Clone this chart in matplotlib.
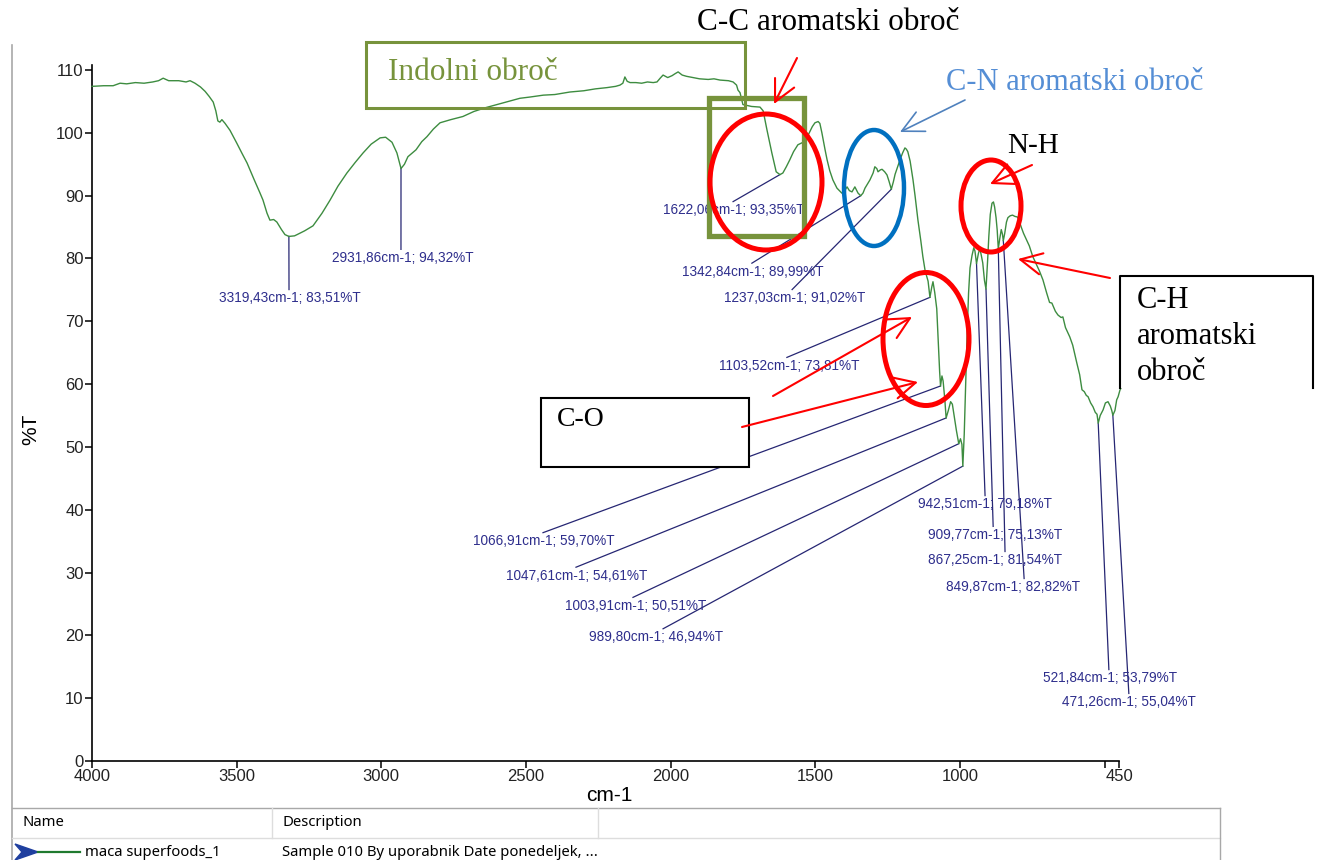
import matplotlib
matplotlib.use("Agg")
import matplotlib.pyplot as plt
from matplotlib.patches import Rectangle, Ellipse, Polygon

# spectrum: wavenumber (cm-1) and %T
wn = [4000, 3960, 3927, 3903, 3880, 3850, 3820, 3790, 3770, 3754, 3735, 3700, 3675, 3661,
      3644, 3625, 3609, 3595, 3581, 3572, 3565, 3558, 3551, 3540, 3523, 3500, 3480, 3464,
      3440, 3420, 3409, 3395, 3385, 3372, 3361, 3345, 3333, 3319.43, 3300, 3291, 3265, 3236,
      3205, 3177, 3150, 3119, 3090, 3063, 3035, 3004, 2985, 2963, 2946, 2931.86, 2920, 2908,
      2880, 2860, 2842, 2820, 2797, 2760, 2718, 2680, 2640, 2600, 2560, 2521, 2486, 2440,
      2400, 2348, 2300, 2260, 2220, 2190, 2175, 2165, 2158, 2150, 2140, 2120, 2100, 2080,
      2060, 2047, 2036, 2026, 2010, 1995, 1985, 1974, 1960, 1945, 1922, 1900, 1870, 1850,
      1829, 1800, 1784, 1772, 1767, 1760, 1750, 1720, 1691, 1680, 1667, 1650, 1635, 1622.06,
      1612, 1600, 1588, 1575, 1560, 1542, 1525, 1510, 1501, 1490, 1484, 1477, 1466, 1459,
      1450, 1439, 1425, 1408, 1398, 1390, 1382, 1373, 1363, 1352, 1342.84, 1335, 1328, 1320,
      1311, 1300, 1294, 1287, 1283, 1275, 1269, 1260, 1252, 1245, 1237.03, 1230, 1224, 1218,
      1207, 1198, 1190, 1185, 1180, 1172, 1162, 1155, 1145, 1135, 1128, 1120, 1110, 1103.52,
      1097, 1093, 1087, 1080, 1075, 1070, 1066.91, 1062, 1058, 1052, 1047.61, 1040, 1032,
      1026, 1020, 1012, 1003.91, 998, 993, 989.80, 985, 980, 975, 970, 965, 958, 952, 948,
      942.51, 936, 931, 926, 921, 915, 909.77, 904, 900, 895, 889, 884, 880, 875, 871, 867.25,
      862, 857, 853, 849.87, 845, 839, 834, 826, 818, 810, 801, 795, 788, 780, 770, 760, 748,
      735, 725, 713, 700, 690, 682, 670, 661, 650, 644, 635, 620, 610, 596, 586, 578, 570,
      563, 557, 548, 540, 532, 526, 521.84, 515, 505, 497, 488, 480, 475, 471.26, 464, 458,
      453, 447, 443]
tr = [107.4, 107.5, 107.5, 107.9, 107.8, 108.0, 107.9, 108.1, 108.3, 108.7, 108.3, 108.3, 108.1, 108.3,
      107.9, 107.3, 106.6, 105.8, 104.9, 103.5, 101.9, 101.7, 102.1, 101.5, 100.4, 98.4, 96.6, 95.2,
      92.6, 90.5, 89.3, 87.2, 86.1, 86.2, 85.8, 84.6, 83.8, 83.51, 83.6, 83.8, 84.4, 85.2,
      87.2, 89.3, 91.5, 93.6, 95.3, 96.8, 98.2, 99.2, 99.3, 98.5, 96.8, 94.32, 95.0, 96.2,
      97.3, 98.6, 99.4, 100.6, 101.6, 102.1, 102.6, 103.4, 104.0, 104.5, 105.0, 105.5, 105.7, 106.0,
      106.1, 106.5, 106.7, 107.0, 107.2, 107.4, 107.6, 107.9, 108.9, 108.2, 108.0, 108.0, 107.9, 108.1,
      108.0, 108.1, 108.7, 109.2, 108.8, 109.1, 109.4, 109.7, 109.2, 109.0, 108.8, 108.6, 108.5, 108.6,
      108.4, 108.3, 108.1, 107.6, 106.8, 106.4, 104.5, 104.2, 104.1, 103.5, 100.5, 96.8, 93.8, 93.35,
      93.6, 94.6, 95.7, 97.0, 98.1, 98.5, 99.6, 101.0, 101.6, 101.8, 101.5, 100.0, 97.3, 95.7,
      94.0, 92.5, 91.2, 90.4, 90.8, 91.4, 90.8, 90.6, 91.4, 90.4, 89.99, 90.4, 91.2, 91.8,
      92.5, 93.6, 94.6, 94.3, 93.8, 94.1, 94.2, 93.8, 93.3, 92.3, 91.02, 92.2, 93.4, 94.2,
      95.7, 96.8, 97.6, 97.4, 97.0, 95.5, 92.5, 90.0, 86.1, 82.8, 80.3, 78.0, 76.4, 73.81,
      75.5, 76.3, 74.6, 72.0, 67.0, 62.0, 59.70, 61.3, 60.5, 57.5, 54.61, 55.8, 57.2,
      56.8, 55.0, 52.6, 50.51, 51.3, 50.4, 46.94, 52.0, 60.0, 68.0, 74.5, 78.5, 80.5, 81.7, 81.2,
      79.18, 80.8, 81.6, 80.5, 79.3, 76.5, 75.13, 79.8, 83.5, 87.0, 88.8, 89.0, 88.2, 86.5, 84.5, 81.54,
      83.2, 84.6, 83.9, 82.82, 84.0, 85.8, 86.5, 86.8, 86.9, 86.7, 86.6, 86.0, 85.0, 84.0, 83.0, 82.0, 80.3,
      79.0, 78.0, 76.6, 74.5, 73.0, 72.9, 71.6, 71.0, 70.6, 70.7, 69.0, 67.5, 66.2, 63.4, 61.5, 59.1, 58.8,
      58.2, 58.0, 57.0, 56.4, 55.5, 55.2, 53.79, 55.0, 55.9, 57.0, 57.2, 56.5, 55.8, 55.04, 55.8, 57.5,
      58.0, 59.0, 59.4]

# picked peaks
peak_wn = [3319.43, 2931.86, 1622.06, 1342.84, 1237.03, 1103.52, 1066.91, 1047.61,
           1003.91, 989.80, 942.51, 909.77, 867.25, 849.87, 521.84, 471.26]
peak_t = [83.51, 94.32, 93.35, 89.99, 91.02, 73.81, 59.70, 54.61,
          50.51, 46.94, 79.18, 75.13, 81.54, 82.82, 53.79, 55.04]
# where the peak labels sit (text centre) and where their leader lines end
lab_wn = [3317, 2927, 1780, 1715, 1570, 1591, 2438, 2323, 2120, 2050, 913, 878, 878, 816, 481, 416]
lab_t = [73.7, 80.1, 87.7, 77.9, 73.7, 62.9, 35.0, 29.5, 24.7, 19.7, 40.9, 36.0, 32.0, 27.7, 13.2, 9.4]
end_wn = [3319, 2932, 1784, 1719, 1580, 1598, 2441, 2327, 2130, 2026, 913, 885, 844, 778, 485, 416]

xticks = [4000, 3500, 3000, 2500, 2000, 1500, 1000, 500, 450]
xticklabels = ["4000", "3500", "3000", "2500", "2000", "1500", "1000", "", "450"]
yticks = [0, 10, 20, 30, 40, 50, 60, 70, 80, 90, 100, 110]

SANS = "Liberation Sans"
SERIF = "Liberation Serif"
UI = "Noto Sans"
W, H = 1317, 860

fig = plt.figure(figsize=(W / 100, H / 100), dpi=100)
ax = fig.add_axes([92 / W, 99 / H, 1027 / W, 696 / H])
ax.plot(wn, tr, color="#3d8c40", lw=1.0, clip_on=False, zorder=3)
ax.set_xlim(4000, 450)
ax.set_ylim(0, 110.8)
ax.spines["top"].set_visible(False)
ax.spines["right"].set_visible(False)
for s in ("left", "bottom"):
  ax.spines[s].set_linewidth(1.2)
ax.set_xticks(xticks)
ax.set_xticklabels(xticklabels)
ax.set_yticks(yticks)
ax.tick_params(direction="out", length=5, width=1.1, labelsize=12, pad=1)
for lbl in ax.get_xticklabels() + ax.get_yticklabels():
  lbl.set_fontfamily(SANS)
  lbl.set_color("#222222")
ax.set_xlabel("cm-1", fontsize=15, family=SANS)
ax.set_ylabel("%T", fontsize=15, family=SANS)
ax.xaxis.set_label_coords(0.504, -0.036)
ax.yaxis.set_label_coords(-0.05, 0.476)

def fmt(v):
  return f"{v:.2f}".replace(".", ",")

for pw, pt, lw_, lt, ew in zip(peak_wn, peak_t, lab_wn, lab_t, end_wn):
  ax.plot([pw, ew], [pt, lt + 1.35], color="#262673", lw=0.9, clip_on=False, zorder=2)
  ax.text(lw_, lt, f"{fmt(pw)}cm-1; {fmt(pt)}%T", ha="center", va="center",
          fontsize=9.8, family=SANS, color="#2e2e8c", zorder=4)

# hand drawn annotations on top, in pixel coordinates
ov = fig.add_axes([0, 0, 1, 1], zorder=5)
ov.set_xlim(0, W)
ov.set_ylim(H, 0)
ov.axis("off")
ov.patch.set_alpha(0)

OLIVE = "#77933c"
RED = "#ff0000"
ov.add_patch(Rectangle((366, 42), 379, 66, fill=False, ec=OLIVE, lw=2.2))
ov.text(388, 73, "Indolni obroč", family=SERIF, fontsize=22.5, color=OLIVE, va="center")
ov.add_patch(Rectangle((709, 98), 95, 138, fill=False, ec=OLIVE, lw=3.8))
ov.add_patch(Ellipse((766, 182), 112, 136, fill=False, ec=RED, lw=3.6))
ov.add_patch(Ellipse((874, 188), 60, 116, fill=False, ec="#0070c0", lw=3.2))
ov.add_patch(Ellipse((991, 206), 60, 92, fill=False, ec=RED, lw=3.6))
ov.add_patch(Ellipse((926, 339), 86, 133, fill=False, ec=RED, lw=3.6))

def arrow(tail, head, color=RED, lw=1.5):
  ov.annotate("", xy=head, xytext=tail,
              arrowprops=dict(arrowstyle="->,head_length=0.7,head_width=0.35",
                              color=color, lw=lw, mutation_scale=22, shrinkA=0, shrinkB=0))

arrow((797, 58), (774, 104))
arrow((965, 100), (900, 132), color="#4f81bd", lw=1.2)
arrow((1032, 165), (990, 184))
arrow((1110, 278), (1018, 259))
arrow((773, 396), (912, 317))
arrow((742, 427), (918, 382))

ov.text(828, 22, "C-C aromatski obroč", family=SERIF, fontsize=22.5, ha="center", va="center")
ov.text(946, 82, "C-N aromatski obroč", family=SERIF, fontsize=22, color="#558ed5", va="center")
ov.text(1007, 146, "N-H", family=SERIF, fontsize=21, va="center")

ov.add_patch(Rectangle((1120, 276), 193, 112, fc="white", ec="none", zorder=1))
ov.plot([1120, 1120, 1313, 1313], [388, 276, 276, 388], color="black", lw=1.5)
for i, t in enumerate(["C-H", "aromatski", "obroč"]):
  ov.text(1137, 300 + 36 * i, t, family=SERIF, fontsize=22, va="center")

ov.add_patch(Rectangle((541, 398), 208, 69, fc="white", ec="black", lw=1.5, zorder=1))
ov.text(557, 420, "C-O", family=SERIF, fontsize=20, va="center", zorder=2)

# window frame and sample table
GREY = "#a8a8a8"
ov.plot([12, 12], [45, H], color=GREY, lw=1.2)
ov.plot([12, 1220], [808, 808], color=GREY, lw=1.0)
ov.plot([12, 1220], [838, 838], color="#dddddd", lw=1.0)
ov.plot([1220, 1220], [808, H], color=GREY, lw=1.0)
for x in (272, 598):
  ov.plot([x, x], [808, 838], color="#dddddd", lw=1.0)
ov.text(22, 823, "Name", family=UI, fontsize=10.7, va="center")
ov.text(282, 823, "Description", family=UI, fontsize=10.7, va="center")
ov.add_patch(Polygon([[15, 844], [38, 852], [15, 860], [22, 852]], color="#1f3f9f"))
ov.plot([38, 80], [852, 852], color="#1f7a2f", lw=1.6)
ov.text(85, 852, "maca superfoods_1", family=UI, fontsize=10.7, va="center")
ov.text(282, 852, "Sample 010 By uporabnik Date ponedeljek, ...", family=UI,
        fontsize=10.7, va="center")

fig.savefig("out.png", dpi=100)
